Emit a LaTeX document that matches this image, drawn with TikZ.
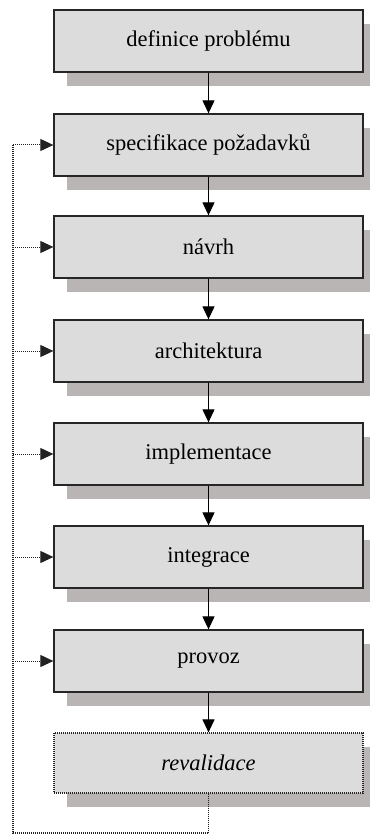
\documentclass[tikz,border=0pt]{standalone}
\usepackage{fontspec}
\setmainfont{Liberation Serif}
\usetikzlibrary{arrows.meta,shadows}
\definecolor{boxfill}{HTML}{DCDCDC}
\definecolor{shadowgray}{HTML}{B9B5B5}
\definecolor{loopgray}{HTML}{222222}
\begin{document}
\begin{tikzpicture}[x=1pt,y=-1pt,
  phase/.style={draw=black!85, line width=1.3pt, fill=boxfill,
    minimum width=309pt, minimum height=62pt, inner sep=0pt,
    font=\fontsize{22.5}{26}\selectfont,
    drop shadow={shadow xshift=13pt, shadow yshift=-14pt, fill=shadowgray, opacity=1}},
  flow/.style={line width=1.1pt, -{Triangle[length=13pt,width=12pt]}},
  loop/.style={draw=loopgray, dash pattern=on 1pt off 1pt, line width=1pt},
  loopin/.style={loop, -{Triangle[length=13pt,width=12pt]}}]
\useasboundingbox (0,0) rectangle (369,834);
\node[phase] (p1) at (208.5,41)  {definice problému};
\node[phase] (p2) at (208.5,145) {specifikace požadavků};
\node[phase] (p3) at (208.5,247) {návrh};
\node[phase] (p4) at (208.5,351) {architektura};
\node[phase] (p5) at (208.5,454) {implementace};
\node[phase] (p6) at (208.5,557) {integrace};
\node[phase] (p7) at (208.5,661) {provoz};
\node[phase, dash pattern=on 1pt off 1pt, line width=1.2pt, minimum height=60pt] (p8) at (208.5,763) {\itshape revalidace};
% main sequence
\foreach \a/\b in {p1/p2,p2/p3,p3/p4,p4/p5,p5/p6,p6/p7,p7/p8}
  \draw[flow] (\a.south) -- (\b.north);
% feedback loop from revalidation back to the earlier phases
\coordinate (fb) at (208.5,833);
\coordinate (fl) at (13,833);
\coordinate (ft) at (13,145);
\draw[loop, line width=1.4pt] (p8.south) -- (fb) -- (fl) -- (ft);
\foreach \n in {p2,p3,p4,p5,p6,p7}
  \draw[loopin] (13,0 |- \n.west) -- (\n.west);
\end{tikzpicture}
\end{document}
